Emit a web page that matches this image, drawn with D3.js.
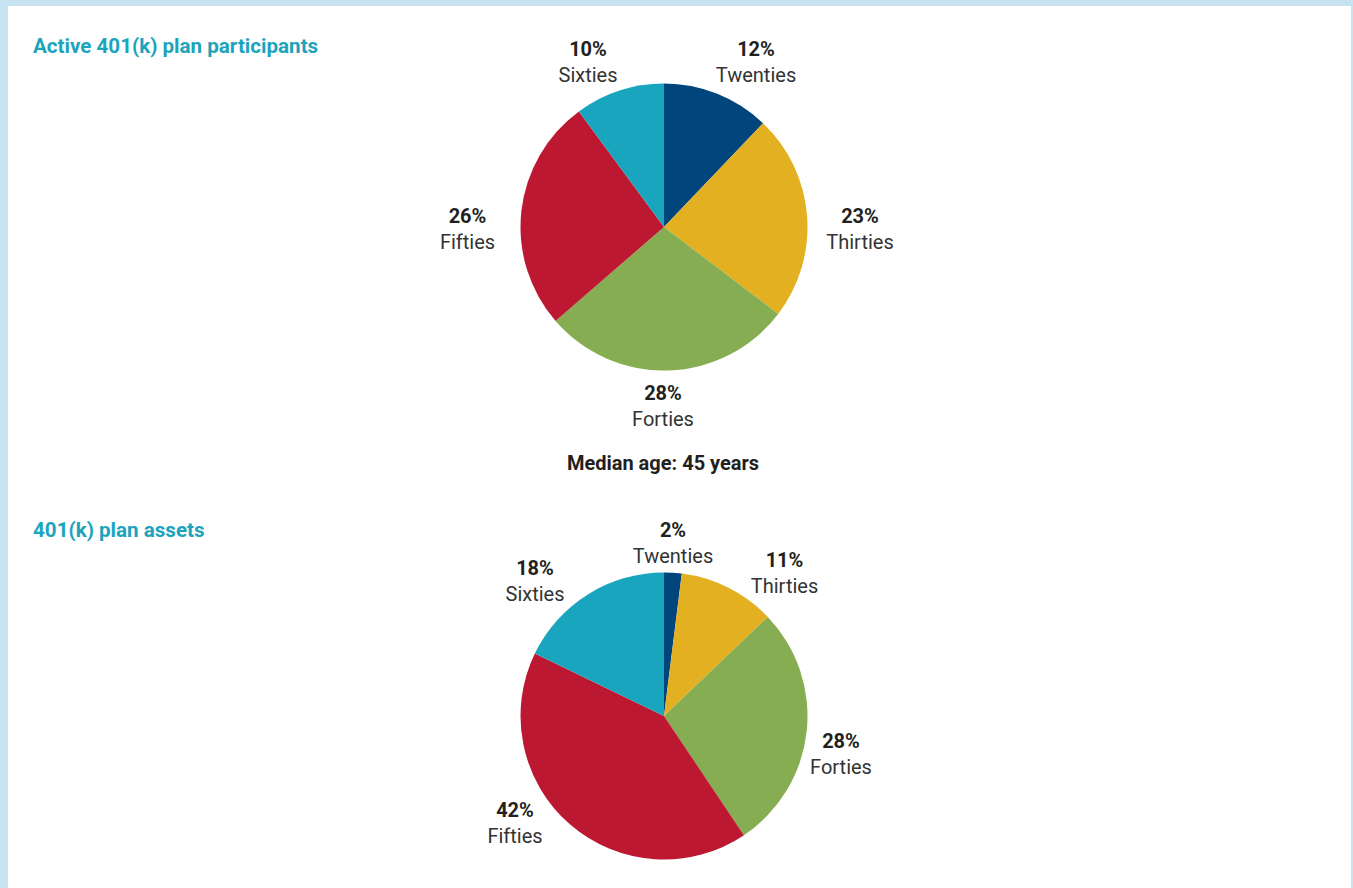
<!DOCTYPE html>
<html>
<head>
<meta charset="utf-8">
<script src="https://cdn.jsdelivr.net/npm/d3@7"></script>
<style>
  html, body { margin: 0; padding: 0; background: #ffffff; }
  svg { display: block; }
</style>
</head>
<body>
<svg id="chart" width="1353" height="888"></svg>
<script>
// ---- Data ----
const categories = ["Twenties", "Thirties", "Forties", "Fifties", "Sixties"];
const participantsPct = [12, 23, 28, 26, 10];
const assetsPct = [2, 11, 28, 42, 18];
const chartTitles = ["Active 401(k) plan participants", "401(k) plan assets"];
const medianNote = "Median age: 45 years";

// ---- Styling / layout (not data) ----
const colors = d3.scaleOrdinal()
  .domain(categories)
  .range(["#00457c", "#e3b022", "#86ad51", "#bd1832", "#1aa5be"]);
const W = 1353, H = 888;
const R = 143.5;
const FONT = "Roboto, 'Open Sans', sans-serif";
const pies = [
  { values: participantsPct, cx: 664, cy: 227, titleY: 53,
    // label anchors relative to pie centre: [centre x, percent baseline]
    labels: [[92, -171], [196, -4], [-1, 173], [-196.5, -4], [-76, -171]] },
  { values: assetsPct, cx: 664, cy: 716, titleY: 537,
    labels: [[9, -179], [120.5, -149], [177, 32], [-149, 101], [-129, -141]] }
];

const svg = d3.select("#chart");

// background + frame
svg.append("rect").attr("x", 0).attr("y", 0).attr("width", W).attr("height", H).attr("fill", "#c7e3ef");
svg.append("rect").attr("x", 8).attr("y", 6).attr("width", W - 8 - 2).attr("height", H - 6).attr("fill", "#ffffff");

const pie = d3.pie().sort(null).value(d => d.value);
const arc = d3.arc().innerRadius(0).outerRadius(R);

pies.forEach((p, pi) => {
  const data = categories.map((c, i) => ({ name: c, value: p.values[i] }));
  const arcs = pie(data);

  svg.append("text")
    .attr("x", 33).attr("y", p.titleY)
    .attr("font-family", FONT).attr("font-size", 20.6).attr("font-weight", 700)
    .attr("fill", "#1ca4bd")
    .text(chartTitles[pi]);

  const g = svg.append("g").attr("transform", `translate(${p.cx},${p.cy})`);
  g.selectAll("path.slice")
    .data(arcs)
    .join("path")
    .attr("class", "slice")
    .attr("d", arc)
    .attr("fill", d => colors(d.data.name));

  const lab = g.selectAll("g.lab")
    .data(arcs)
    .join("g")
    .attr("class", "lab")
    .attr("transform", (d, i) => `translate(${p.labels[i][0]},${p.labels[i][1]})`);
  lab.append("text")
    .attr("text-anchor", "middle")
    .attr("font-family", FONT).attr("font-size", 20).attr("font-weight", 700)
    .attr("fill", "#231f20")
    .text(d => d.data.value + "%");
  lab.append("text")
    .attr("y", 26)
    .attr("text-anchor", "middle")
    .attr("font-family", FONT).attr("font-size", 20).attr("font-weight", 400)
    .attr("fill", "#333333")
    .text(d => d.data.name);
});

svg.append("text")
  .attr("x", 663).attr("y", 470)
  .attr("text-anchor", "middle")
  .attr("font-family", FONT).attr("font-size", 20).attr("font-weight", 700)
  .attr("fill", "#231f20")
  .text(medianNote);
</script>
</body>
</html>
